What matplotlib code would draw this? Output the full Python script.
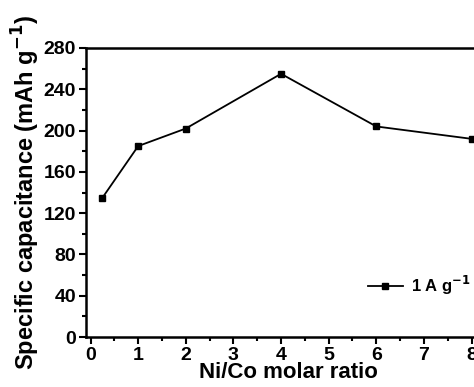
import matplotlib.pyplot as plt
from matplotlib.ticker import MultipleLocator

plt.rcParams['font.family'] = ['Liberation Sans', 'DejaVu Sans']
plt.rcParams['font.weight'] = 'bold'

# Ni/Co ratio vs specific capacitance at 1 A/g
ratio = [0.25, 1, 2, 4, 6, 8]
capacity = [135, 185, 202, 255, 204, 192]
series_label = '1 A g$^{\\mathbf{-1}}$'

fig = plt.figure(figsize=(4.74, 3.87), dpi=100)
ax = fig.add_axes([0.181, 0.129, 0.854, 0.747])

ax.plot(ratio, capacity, color='black', lw=1.3, marker='s', ms=5, label=series_label)

ax.set_xlim(-0.1, 8.4)
ax.set_ylim(0, 280)
ax.xaxis.set_major_locator(MultipleLocator(1))
ax.xaxis.set_minor_locator(MultipleLocator(0.5))
ax.yaxis.set_major_locator(MultipleLocator(40))
ax.yaxis.set_minor_locator(MultipleLocator(20))
ax.tick_params(which='both', direction='out', width=1.5, labelsize=14)
ax.tick_params(which='major', length=5, pad=2)
ax.tick_params(which='minor', length=3)
for s in ax.spines.values():
    s.set_linewidth(1.8)

ax.set_xlabel('Ni/Co molar ratio', fontsize=16, fontweight='bold', labelpad=-1)
ax.set_ylabel('Specific capacitance (mAh g$^{\\mathbf{-1}}$)', fontsize=17,
              fontweight='bold', labelpad=1)

ax.legend(loc='center left', bbox_to_anchor=(0.696, 0.18), frameon=False,
          fontsize=12, handlelength=2.1, handletextpad=0.5,
          borderpad=0, borderaxespad=0)

fig.savefig('out.png', dpi=100)
